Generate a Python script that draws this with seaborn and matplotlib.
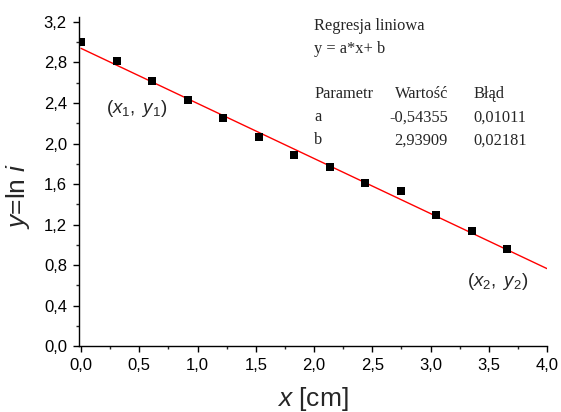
import matplotlib
matplotlib.use("Agg")
import matplotlib.pyplot as plt
from matplotlib.ticker import MultipleLocator, FuncFormatter
import numpy as np
import pandas as pd
import seaborn as sns

# measured points
x_cm = [0.0, 0.305, 0.61, 0.915, 1.22, 1.525, 1.83, 2.135, 2.44, 2.745, 3.05, 3.355, 3.66]
ln_i = [3.00, 2.81, 2.62, 2.43, 2.25, 2.06, 1.89, 1.77, 1.61, 1.53, 1.29, 1.14, 0.96]

# fit parameters (from the table in the chart)
param_names = ["a", "b"]
param_values = [-0.54355, 2.93909]
param_errors = [0.01011, 0.02181]
fit_range = [0.0, 4.0]

sns.set_style("ticks")
plt.rcParams['font.family'] = ['Liberation Sans', 'DejaVu Sans']
plt.rcParams['mathtext.fontset'] = 'custom'
plt.rcParams['mathtext.rm'] = 'Liberation Sans'
plt.rcParams['mathtext.it'] = 'Liberation Sans:italic'

pts = pd.DataFrame({"x": x_cm, "y": ln_i})
a, b = param_values
fit = pd.DataFrame({"x": fit_range, "y": [a * v + b for v in fit_range]})

fig = plt.figure(figsize=(5.61, 4.12), dpi=100)
ax = fig.add_axes([0.141, 0.160, 0.834, 0.799])

sns.lineplot(data=fit, x="x", y="y", ax=ax, color="red", lw=1.0)
sns.scatterplot(data=pts, x="x", y="y", ax=ax, marker="s", s=38, color="black",
                edgecolor="black", linewidth=0, zorder=3)

ax.set_xlim(-0.017, 4.0)
ax.set_ylim(0.0, 3.25)
ax.xaxis.set_major_locator(MultipleLocator(0.5))
ax.xaxis.set_minor_locator(MultipleLocator(0.25))
ax.yaxis.set_major_locator(MultipleLocator(0.4))
ax.yaxis.set_minor_locator(MultipleLocator(0.2))
comma = FuncFormatter(lambda v, p: f"{v:.1f}".replace(".", ","))
ax.xaxis.set_major_formatter(comma)
ax.yaxis.set_major_formatter(comma)
ax.tick_params(which="major", direction="out", length=4.3, width=1, labelsize=12,
               pad=4.5, colors="black")
ax.tick_params(which="minor", direction="out", length=2.2, width=1)
for s in ["top", "right"]:
    ax.spines[s].set_visible(False)
for s in ["left", "bottom"]:
    ax.spines[s].set_linewidth(1.0)
    ax.spines[s].set_color("black")

ax.set_xlabel(r"$\it{x}$ [cm]", fontsize=19, va="center")
ax.set_ylabel(r"$\it{y}$=ln $\it{i}$", fontsize=19, va="center")
ax.xaxis.set_label_coords(0.499, -0.160)
ax.yaxis.set_label_coords(-0.130, 0.456)

ax.text(0.215, 2.35, r"$(x_{\mathit{1}},\ y_{\mathit{1}})$", fontsize=13.5, va="center")
ax.text(3.31, 0.64, r"$(x_{\mathit{2}},\ y_{\mathit{2}})$", fontsize=13.5, va="center")

serif = dict(family="Liberation Serif", fontsize=11.8, va="center")
ax.text(2.0, 3.16, "Regresja liniowa", **serif)
ax.text(2.0, 2.93, "y = a*x+ b", **serif)
ax.text(2.0, 2.49, "Parametr", **serif)
ax.text(2.695, 2.49, "Wartość", **serif)
ax.text(3.365, 2.49, "Błąd", **serif)
for k, (n, v, e) in enumerate(zip(param_names, param_values, param_errors)):
    yy = 2.26 - k * 0.23
    ax.text(2.0, yy, n, **serif)
    ax.text(3.15, yy, f"{v:.5f}".replace(".", ","), ha="right", **serif)
    ax.text(3.365, yy, f"{e:.5f}".replace(".", ","), **serif)

fig.savefig("out.png", dpi=100)
